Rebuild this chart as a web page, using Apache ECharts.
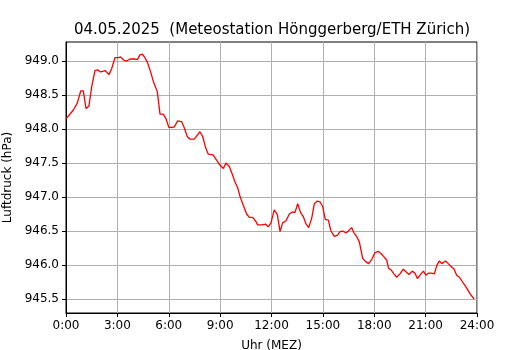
<!DOCTYPE html>
<html>
<head>
<meta charset="utf-8">
<script src="https://cdn.jsdelivr.net/npm/echarts@6/dist/echarts.min.js"></script>
<style>
  html, body { margin: 0; padding: 0; background: #fff; }
  #chart { width: 530px; height: 350px; }
</style>
</head>
<body>
<div id="chart"></div>
<script>
// hours since midnight (MEZ)
const hours = [
  0.0, 0.43, 0.66, 0.86, 1.01, 1.17, 1.34, 1.5, 1.69, 1.85, 2.02, 2.28, 2.51, 2.67,
  2.86, 3.06, 3.19, 3.39, 3.54, 3.74, 3.97, 4.17, 4.32, 4.46, 4.61, 4.77, 4.94, 5.1,
  5.33, 5.49, 5.68, 5.84, 6.01, 6.32, 6.52, 6.75, 6.89, 7.08, 7.24, 7.49, 7.67, 7.82,
  7.98, 8.16, 8.31, 8.59, 8.8, 8.99, 9.19, 9.34, 9.54, 9.73, 9.87, 10.02, 10.16, 10.35,
  10.55, 10.7, 10.9, 11.09, 11.19, 11.43, 11.66, 11.81, 11.97, 12.16, 12.34, 12.5,
  12.65, 12.85, 13.04, 13.22, 13.37, 13.53, 13.7, 13.86, 14.01, 14.17, 14.35, 14.5,
  14.68, 14.83, 14.99, 15.14, 15.32, 15.47, 15.67, 15.86, 16.0, 16.16, 16.35, 16.49,
  16.68, 16.82, 16.97, 17.13, 17.32, 17.5, 17.67, 17.85, 18.04, 18.24, 18.39, 18.57,
  18.73, 18.84, 18.98, 19.15, 19.31, 19.5, 19.7, 19.85, 20.03, 20.22, 20.38, 20.52,
  20.67, 20.87, 21.02, 21.16, 21.36, 21.51, 21.65, 21.8, 21.94, 22.03, 22.17, 22.32,
  22.52, 22.66, 22.81, 22.97, 23.16, 23.4, 23.59, 23.83
];
// air pressure in hPa
const pressure = [
  948.15, 948.28, 948.38, 948.56, 948.56, 948.3, 948.34, 948.62, 948.86, 948.87, 948.84,
  948.86, 948.8, 948.89, 949.05, 949.05, 949.06, 949.01, 949.0, 949.03, 949.03, 949.02,
  949.09, 949.1, 949.05, 948.97, 948.84, 948.7, 948.55, 948.22, 948.22, 948.15, 948.02,
  948.03, 948.12, 948.11, 948.03, 947.89, 947.85, 947.85, 947.91, 947.96, 947.89,
  947.72, 947.63, 947.62, 947.54, 947.47, 947.42, 947.5, 947.45, 947.32, 947.22,
  947.14, 947.01, 946.88, 946.75, 946.7, 946.7, 946.64, 946.59, 946.59, 946.6, 946.56,
  946.62, 946.81, 946.74, 946.49, 946.62, 946.65, 946.75, 946.78, 946.77, 946.9,
  946.77, 946.71, 946.61, 946.55, 946.69, 946.9, 946.94, 946.93, 946.86, 946.67,
  946.66, 946.5, 946.42, 946.44, 946.49, 946.5, 946.47, 946.5, 946.55, 946.47, 946.42,
  946.34, 946.1, 946.05, 946.02, 946.08, 946.18, 946.2, 946.17, 946.12, 946.07,
  945.95, 945.93, 945.87, 945.82, 945.87, 945.94, 945.9, 945.86, 945.91, 945.88,
  945.8, 945.85, 945.91, 945.85, 945.88, 945.88, 945.87, 945.99, 946.06, 946.02,
  946.04, 946.06, 946.02, 945.97, 945.94, 945.85, 945.82, 945.75, 945.66, 945.58,
  945.5
];
const yTicks = [945.5, 946.0, 946.5, 947.0, 947.5, 948.0, 948.5, 949.0];

const font = "DejaVu Sans";
const chart = echarts.init(document.getElementById("chart"), null, { renderer: "canvas" });

const option = {
  animation: false,
  backgroundColor: "#fff",
  title: {
    text: "04.05.2025  (Meteostation Hönggerberg/ETH Zürich)",
    left: 267,
    textAlign: "center",
    top: 18,
    textStyle: { fontFamily: font, fontSize: 15, fontWeight: "normal", color: "#000" },
  },
  grid: {
    left: 66,
    right: 53,
    top: 42,
    bottom: 37,
    outerBoundsMode: "none",
    containLabel: false,
    show: true,
    borderColor: "#000",
    borderWidth: 1,
    backgroundColor: "transparent",
  },
  xAxis: {
    type: "value",
    min: 0,
    max: 24,
    interval: 3,
    name: "Uhr (MEZ)",
    nameLocation: "middle",
    nameGap: 27,
    nameMoveOverlap: false,
    nameTextStyle: { fontFamily: font, fontSize: 12, color: "#000" },
    axisLine: { show: true, lineStyle: { color: "#000", width: 1 } },
    axisTick: { show: true, length: 4, inside: false, lineStyle: { color: "#000" } },
    axisLabel: {
      fontFamily: font,
      fontSize: 12,
      color: "#000",
      margin: 7,
      formatter: (v) => v + ":00",
    },
    splitLine: { show: true, lineStyle: { color: "#b0b0b0", width: 1 } },
  },
  yAxis: {
    type: "value",
    min: 945.294,
    max: 949.28,
    name: "Luftdruck (hPa)",
    nameLocation: "middle",
    nameGap: 52,
    nameMoveOverlap: false,
    nameRotate: 90,
    nameTextStyle: { fontFamily: font, fontSize: 12, color: "#000" },
    axisLine: { show: true, lineStyle: { color: "#000", width: 1 } },
    axisTick: {
      show: true,
      length: 4,
      customValues: yTicks,
      lineStyle: { color: "#000" },
    },
    axisLabel: {
      fontFamily: font,
      fontSize: 12,
      color: "#000",
      margin: 7,
      customValues: yTicks,
      formatter: (v) => v.toFixed(1),
    },
    splitLine: { show: true, lineStyle: { color: "#b0b0b0", width: 1 } },
  },
  series: [
    {
      type: "line",
      data: hours.map((h, i) => [h, pressure[i]]),
      showSymbol: false,
      lineStyle: { color: "#ff0000", width: 1.3 },
      itemStyle: { color: "#ff0000" },
    },
  ],
};

chart.setOption(option);
</script>
</body>
</html>
